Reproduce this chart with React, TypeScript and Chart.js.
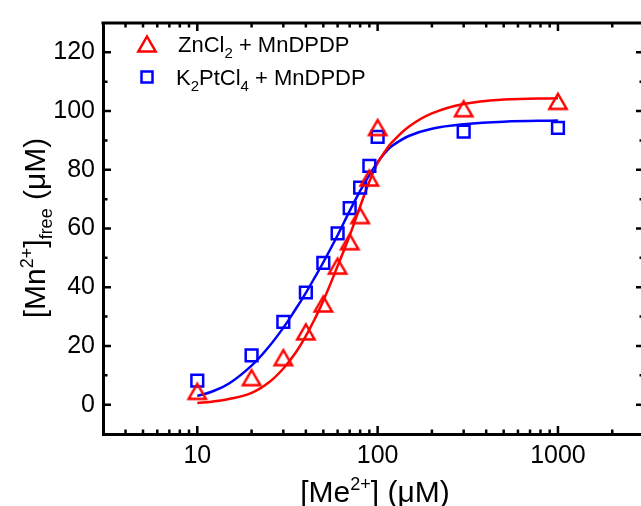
import React, { useEffect, useRef } from "react";
import { Chart, registerables } from "chart.js";

Chart.register(...registerables);

const FONT = "'Liberation Sans', Arial, sans-serif";

// Tick labels
const xTickValues = [10, 100, 1000];
const yTickValues = [0, 20, 40, 60, 80, 100, 120];

// Measured points
const concentrations = [10, 20, 30, 40, 50, 60, 70, 80, 90, 100, 300, 1000];
const znValues = [4.5, 9.2, 16.0, 24.8, 34.3, 47.2, 55.5, 64.4, 77.2, 94.4, 100.8, 103.3];
const ptValues = [8.2, 16.8, 28.2, 38.2, 48.3, 58.3, 66.9, 73.9, 81.3, 91.2, 93.0, 94.3];

// Fitted curves
const fitX = [10, 12, 15, 20, 25, 30, 35, 40, 45, 50, 60, 70, 80, 90, 100, 110, 120, 150, 200, 300, 500, 1000];
const znFit = [0.6, 1.0, 1.9, 4.0, 7.6, 12.3, 17.6, 23.4, 29.4, 35.4, 47.2, 57.6, 67.5, 76.0, 82.3, 86.3, 89.3, 94.8, 99.2, 102.4, 103.9, 104.4];
const ptFit = [3.0, 4.4, 7.2, 13.3, 19.8, 26.2, 32.4, 38.1, 43.5, 48.5, 57.7, 66.0, 72.8, 78.3, 82.6, 85.8, 88.1, 91.6, 94.0, 95.5, 96.4, 96.8];

const RED = "#ff0000";
const BLUE = "#0000ff";

type Part = { t: string; size: number; dy: number };

function drawRich(ctx: CanvasRenderingContext2D, parts: Part[], x: number, y: number, align: "left" | "center") {
  let total = 0;
  const widths: number[] = [];
  for (const p of parts) {
    ctx.font = `${p.size}px ${FONT}`;
    const w = ctx.measureText(p.t).width;
    widths.push(w);
    total += w;
  }
  let cx = align === "center" ? x - total / 2 : x;
  ctx.textAlign = "left";
  ctx.textBaseline = "alphabetic";
  parts.forEach((p, i) => {
    ctx.font = `${p.size}px ${FONT}`;
    ctx.fillText(p.t, cx, y + p.dy);
    cx += widths[i];
  });
}

function strokeTriangle(ctx: CanvasRenderingContext2D, cx: number, cy: number, r: number) {
  ctx.beginPath();
  ctx.moveTo(cx, cy - r * 0.75);
  ctx.lineTo(cx + r * 0.866, cy + r * 0.75);
  ctx.lineTo(cx - r * 0.866, cy + r * 0.75);
  ctx.closePath();
  ctx.stroke();
}

function makeTriangleStyle(): HTMLCanvasElement {
  const c = document.createElement("canvas");
  c.width = 24;
  c.height = 22;
  const g = c.getContext("2d")!;
  g.strokeStyle = RED;
  g.lineWidth = 2.5;
  g.lineJoin = "miter";
  strokeTriangle(g, 12, 11, 10);
  return c;
}

const decorPlugin = {
  id: "decor",
  afterDraw(chart: any) {
    const { ctx, chartArea: a, scales } = chart;
    const x = scales.x;
    const y = scales.y;
    ctx.save();
    ctx.strokeStyle = "#000";
    ctx.fillStyle = "#000";
    ctx.lineWidth = 3;
    ctx.lineCap = "square";
    ctx.beginPath();
    ctx.moveTo(a.left, a.top);
    ctx.lineTo(a.right, a.top);
    ctx.lineTo(a.right, a.bottom);
    ctx.stroke();

    ctx.lineCap = "butt";
    ctx.lineWidth = 2.5;
    ctx.beginPath();
    for (let d = 1; d <= 1000; d *= 10) {
      for (let m = 1; m <= 9; m++) {
        const v = d * m;
        if (v <= 3 || v >= 3000) continue;
        const px = x.getPixelForValue(v);
        const len = m === 1 ? 8 : 4.5;
        ctx.moveTo(px, a.bottom);
        ctx.lineTo(px, a.bottom - len);
        ctx.moveTo(px, a.top);
        ctx.lineTo(px, a.top + len);
      }
    }
    for (let v = 0; v <= 120; v += 10) {
      const py = y.getPixelForValue(v);
      const len = v % 20 === 0 ? 8 : 4.5;
      ctx.moveTo(a.left, py);
      ctx.lineTo(a.left + len, py);
      ctx.moveTo(a.right, py);
      ctx.lineTo(a.right - len, py);
    }
    ctx.stroke();

    // Axis titles
    ctx.fillStyle = "#000";
    drawRich(
      ctx,
      [
        { t: "[Me", size: 30, dy: 0 },
        { t: "2+", size: 18, dy: -12 },
        { t: "] (\u03bcM)", size: 30, dy: 0 },
      ],
      375,
      502,
      "center"
    );
    ctx.save();
    ctx.translate(45, 228);
    ctx.rotate(-Math.PI / 2);
    drawRich(
      ctx,
      [
        { t: "[Mn", size: 30, dy: 0 },
        { t: "2+", size: 18, dy: -12 },
        { t: "]", size: 30, dy: 0 },
        { t: "free", size: 18, dy: 7 },
        { t: " (\u03bcM)", size: 30, dy: 0 },
      ],
      0,
      0,
      "center"
    );
    ctx.restore();

    // Legend
    ctx.lineWidth = 2.5;
    ctx.strokeStyle = RED;
    strokeTriangle(ctx, 147, 44, 10);
    ctx.strokeStyle = BLUE;
    ctx.strokeRect(147 - 5.5, 77 - 5.5, 11, 11);
    ctx.fillStyle = "#000";
    drawRich(
      ctx,
      [
        { t: "ZnCl", size: 22, dy: 0 },
        { t: "2", size: 15, dy: 6 },
        { t: " + MnDPDP", size: 22, dy: 0 },
      ],
      178,
      52,
      "left"
    );
    drawRich(
      ctx,
      [
        { t: "K", size: 22, dy: 0 },
        { t: "2", size: 15, dy: 6 },
        { t: "PtCl", size: 22, dy: 0 },
        { t: "4", size: 15, dy: 6 },
        { t: " + MnDPDP", size: 22, dy: 0 },
      ],
      176,
      85,
      "left"
    );
    ctx.restore();
  },
};

export default function App() {
  const ref = useRef<HTMLCanvasElement | null>(null);

  useEffect(() => {
    const canvas = ref.current;
    if (!canvas) return;
    const pts = (xs: number[], ys: number[]) => xs.map((v, i) => ({ x: v, y: ys[i] }));
    const tri = makeTriangleStyle();
    const chart = new Chart(canvas, {
      type: "scatter",
      data: {
        datasets: [
          {
            label: "ZnCl2 + MnDPDP",
            data: pts(concentrations, znValues),
            pointStyle: tri,
            pointRadius: 10,
            pointBorderWidth: 2.5,
            borderColor: RED,
            pointBorderColor: RED,
            pointBackgroundColor: "rgba(0,0,0,0)",
            showLine: false,
          },
          {
            label: "K2PtCl4 + MnDPDP",
            data: pts(concentrations, ptValues),
            pointStyle: "rect",
            pointRadius: 8.3,
            pointBorderWidth: 2.5,
            borderColor: BLUE,
            pointBorderColor: BLUE,
            pointBackgroundColor: "rgba(0,0,0,0)",
            showLine: false,
          },
          {
            label: "ZnCl2 fit",
            data: pts(fitX, znFit),
            showLine: true,
            pointRadius: 0,
            borderColor: RED,
            borderWidth: 2.5,
            tension: 0.4,
            fill: false,
          },
          {
            label: "K2PtCl4 fit",
            data: pts(fitX, ptFit),
            showLine: true,
            pointRadius: 0,
            borderColor: BLUE,
            borderWidth: 2.5,
            tension: 0.4,
            fill: false,
          },
        ],
      },
      options: {
        animation: false,
        responsive: false,
        devicePixelRatio: 1,
        layout: { autoPadding: false, padding: { left: 0, top: 15, right: 16, bottom: 0 } },
        plugins: {
          legend: { display: false },
          tooltip: { enabled: false },
        },
        scales: {
          x: {
            type: "logarithmic",
            min: 3,
            max: 3000,
            afterBuildTicks: (s: any) => {
              s.ticks = xTickValues.map((v) => ({ value: v }));
            },
            afterFit: (s: any) => {
              s.height = 72;
            },
            grid: { display: false, drawTicks: false },
            border: { display: true, color: "#000", width: 3 },
            ticks: {
              color: "#000",
              font: { size: 25, family: FONT },
              padding: 7,
              maxRotation: 0,
              autoSkip: false,
              callback: (v: any) => String(v),
            },
          },
          y: {
            type: "linear",
            min: -10,
            max: 130,
            afterBuildTicks: (s: any) => {
              s.ticks = yTickValues.map((v) => ({ value: v }));
            },
            afterFit: (s: any) => {
              s.width = 103;
            },
            grid: { display: false, drawTicks: false },
            border: { display: true, color: "#000", width: 3 },
            ticks: {
              color: "#000",
              font: { size: 25, family: FONT },
              padding: 8,
              autoSkip: false,
              callback: (v: any) => String(v),
            },
          },
        },
      },
      plugins: [decorPlugin],
    } as any);
    return () => chart.destroy();
  }, []);

  return (
    <div style={{ position: "fixed", left: 0, top: 0, width: 641, height: 506, overflow: "hidden", background: "#fff" }}>
      <canvas ref={ref} width={660} height={506} style={{ display: "block" }} />
    </div>
  );
}
